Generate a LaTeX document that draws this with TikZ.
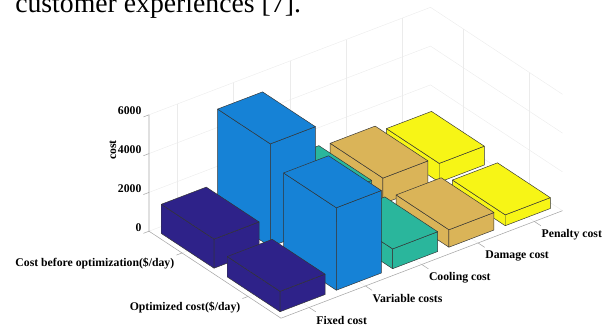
\documentclass[tikz,border=0pt]{standalone}
\usepackage{fontspec}
\setmainfont{Liberation Serif}
\usepackage{tikz}
\usetikzlibrary{positioning}
\usepackage{xcolor}
\definecolor{fixedpurple}{RGB}{46,34,137}
\definecolor{varblue}{RGB}{22,130,214}
\definecolor{coolteal}{RGB}{42,182,156}
\definecolor{damagegold}{RGB}{218,180,88}
\definecolor{penaltyyellow}{RGB}{247,245,22}

\tikzset{
  barface/.style={draw=black!80,line width=0.35pt,line join=round},
  gridline/.style={black!8,line width=0.3pt},
  axisline/.style={black!35,line width=0.4pt},
  ticklabel/.style={font=\fontsize{8.8}{10}\selectfont\bfseries,inner sep=0pt},
}

% one bar: column, row, height (thousands), colour
\newcommand{\costbar}[4]{%
  \pgfmathsetmacro{\bxlo}{#1-0.4}%
  \pgfmathsetmacro{\bxhi}{#1+0.4}%
  \pgfmathsetmacro{\bylo}{#2-0.4}%
  \pgfmathsetmacro{\byhi}{#2+0.4}%
  \filldraw[barface,fill=#4] (\bxlo,\bylo,0) -- (\bxlo,\byhi,0) -- (\bxlo,\byhi,#3) -- (\bxlo,\bylo,#3) -- cycle;
  \filldraw[barface,fill=#4] (\bxlo,\byhi,0) -- (\bxhi,\byhi,0) -- (\bxhi,\byhi,#3) -- (\bxlo,\byhi,#3) -- cycle;
  \filldraw[barface,fill=#4] (\bxlo,\bylo,#3) -- (\bxhi,\bylo,#3) -- (\bxhi,\byhi,#3) -- (\bxlo,\byhi,#3) -- cycle;
}

\begin{document}
\begin{tikzpicture}[x=0.75pt,y=-0.75pt]
  \clip (0,0) rectangle (610,325);

  % Text line cut off above the figure
  \node[anchor=base west,inner sep=0pt,font=\fontsize{20.8}{24}\selectfont] (caption) at (15,12.5)
    {customer experiences [7].};

  % Vertical axis title
  \node[ticklabel,rotate=90] (zlabel) at (113,150) {cost};

  \begin{scope}[shift={(65.89pt,-165.15pt)},x={(42.225pt,16.125pt)},y={(49.5pt,-32.625pt)},z={(0pt,14.55pt)}]
    % Back walls and floor grid
    \foreach \c in {1,...,5} \draw[gridline] (\c,0.5,0) -- (\c,0.5,6);
    \foreach \r in {1,2} \draw[gridline] (5.5,\r,0) -- (5.5,\r,6);
    \foreach \h in {0,2,4,6} \draw[gridline] (0.5,0.5,\h) -- (5.5,0.5,\h) -- (5.5,2.5,\h);
    \foreach \c in {1,...,5} \draw[gridline] (\c,0.5,0) -- (\c,2.5,0);
    \foreach \r in {1,2} \draw[gridline] (0.5,\r,0) -- (5.5,\r,0);

    % Axes
    \draw[axisline] (0.5,0.5,6) -- (0.5,0.5,0) -- (0.5,2.5,0) -- (5.5,2.5,0);

    % z ticks
    \foreach \h/\lab in {0/0,2/2000,4/4000,6/6000} {
      \draw[axisline] (0.5,0.5,\h) -- ++(-0.1,0,0);
      \node[ticklabel,anchor=east,xshift=-5.5pt,yshift=3pt] (zt\h) at (0.5,0.5,\h) {\lab};
    }

    % Row ticks
    \draw[axisline] (0.5,1,0) -- ++(-0.1,0,0);
    \draw[axisline] (0.5,2,0) -- ++(-0.1,0,0);
    \node[ticklabel,anchor=east,xshift=-5.6pt,yshift=-8.25pt] (before) at (0.5,1,0) {Cost before optimization(\$/day)};
    \node[ticklabel,anchor=east,xshift=-5.6pt,yshift=-8.25pt] (optimized) at (0.5,2,0) {Optimized cost(\$/day)};

    % Column ticks
    \foreach \c in {1,...,5} \draw[axisline] (\c,2.5,0) -- ++(0,0.1,0);
    \node[ticklabel,anchor=west,xshift=5.25pt,yshift=-9.75pt] (fixed) at (1,2.5,0) {Fixed cost};
    \node[ticklabel,anchor=west,xshift=5.25pt,yshift=-9.75pt] (variable) at (2,2.5,0) {Variable costs};
    \node[ticklabel,anchor=west,xshift=5.25pt,yshift=-9.75pt] (cooling) at (3,2.5,0) {Cooling cost};
    \node[ticklabel,anchor=west,xshift=5.25pt,yshift=-9.75pt] (damage) at (4,2.5,0) {Damage cost};
    \node[ticklabel,anchor=west,xshift=5.25pt,yshift=-9.75pt] (penalty) at (5,2.5,0) {Penalty cost};

    % Bars, back row first, far to near
    \costbar{5}{1}{0.97}{penaltyyellow}
    \costbar{4}{1}{1.32}{damagegold}
    \costbar{3}{1}{1.42}{coolteal}
    \costbar{2}{1}{5.30}{varblue}
    \costbar{1}{1}{1.50}{fixedpurple}
    \costbar{5}{2}{0.56}{penaltyyellow}
    \costbar{4}{2}{0.90}{damagegold}
    \costbar{3}{2}{1.02}{coolteal}
    \costbar{2}{2}{4.25}{varblue}
    \costbar{1}{2}{1.05}{fixedpurple}
  \end{scope}
\end{tikzpicture}
\end{document}
